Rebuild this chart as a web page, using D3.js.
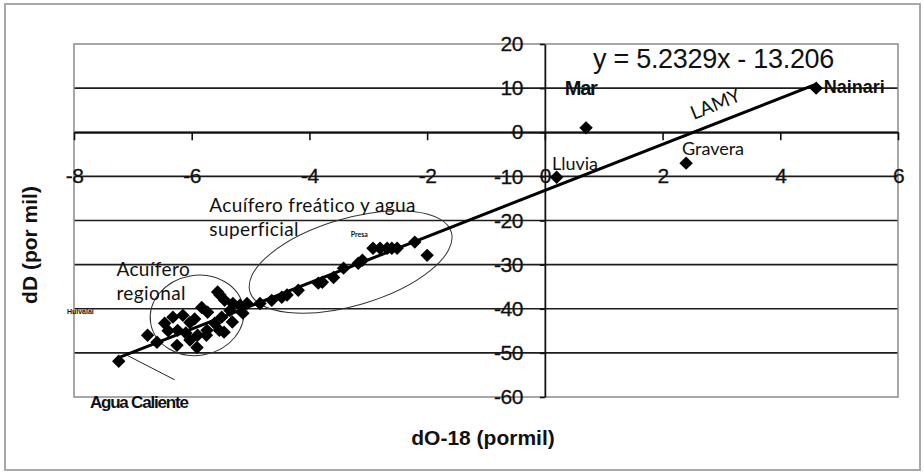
<!DOCTYPE html>
<html>
<head>
<meta charset="utf-8">
<script src="https://cdn.jsdelivr.net/npm/d3@7"></script>
<style>
  body { margin: 0; background: #fff; }
  svg { display: block; }
  .tick text { font-family: "Liberation Sans", Arial, sans-serif; font-size: 21px; fill: #111; }
  .lbl { font-family: "Liberation Sans", Arial, sans-serif; fill: #111; }
  .cal { font-family: Lato, "Open Sans", sans-serif; fill: #111; }
</style>
</head>
<body>
<div id="chart"></div>
<script>
// --------------------------------------
//  Data
// --------------------------------------

const xTicks = [-8, -6, -4, -2, 0, 2, 4, 6];
const yTicks = [-60, -50, -40, -30, -20, -10, 0, 10, 20];

// dO-18 / dD samples (por mil)
const dO18 = [-7.24, -6.75, -6.59, -6.46, -6.32, -6.15, -6.03, -6.24, -6.25, -6.03,
              -5.90, -5.83, -5.73, -5.52, -5.44, -5.61, -5.49, -5.35, -5.30, -5.18,
              -5.06, -5.13, -5.74, -5.91, -6.10, -5.75, -5.53, -5.31, -5.45, -5.56,
              -5.95, -6.40,
              -4.84, -4.64, -4.47, -4.38, -4.19, -3.85, -3.78, -3.59, -3.42, -3.17,
              -3.10, -2.92, -2.80, -2.68, -2.60, -2.51, -2.21, -2.00,
              0.20, 0.70, 2.40, 4.61];
const dD = [-51.9, -46.0, -47.6, -43.3, -41.9, -41.5, -43.1, -44.9, -48.3, -47.1,
            -46.0, -39.7, -40.8, -36.9, -38.1, -43.3, -41.9, -40.4, -38.8, -39.2,
            -38.8, -41.0, -44.9, -48.8, -45.5, -46.0, -44.9, -43.0, -45.3, -36.2,
            -42.3, -45.0,
            -38.8, -38.1, -37.4, -36.9, -35.8, -34.2, -34.0, -32.9, -30.8, -29.7,
            -29.0, -26.3, -26.3, -26.3, -26.3, -26.3, -24.9, -27.9,
            -10.2, 1.0, -7.0, 10.0];

// regression (LAMY)
const slope = 5.2329;
const intercept = -13.206;
const fitRange = [-7.25, 4.6];

// point labels (baseline positions)
const pointNames = ["Lluvia", "Mar", "Gravera", "Nainari"];
const pointLabelX = [0.12, 0.34, 2.33, 4.74];
const pointLabelY = [-8.6, 8.44, -5.2, 8.9];

// --------------------------------------
//  Canvas
// --------------------------------------

const width = 924, height = 473;

const svg = d3.select("#chart")
  .append("svg")
    .attr("width", width)
    .attr("height", height);

svg.append("rect")
  .attr("x", 5).attr("y", 4)
  .attr("width", 915).attr("height", 466)
  .attr("fill", "#fff")
  .attr("stroke", "#a8a8a8")
  .attr("stroke-width", 2);

// --------------------------------------
//  Scales
// --------------------------------------

const x = d3.scaleLinear().domain([-8, 6]).range([74, 898]);
const y = d3.scaleLinear().domain([-60, 20]).range([397, 44]);

// --------------------------------------
//  Grid and plot border
// --------------------------------------

svg.append("g")
  .selectAll("line")
  .data(yTicks.filter(d => d > -60 && d < 20))
  .join("line")
    .attr("x1", x(-8)).attr("x2", x(6))
    .attr("y1", d => y(d)).attr("y2", d => y(d))
    .attr("stroke", "#1c1c1c")
    .attr("stroke-width", 1.6);

svg.append("rect")
  .attr("x", x(-8)).attr("y", y(20))
  .attr("width", x(6) - x(-8)).attr("height", y(-60) - y(20))
  .attr("fill", "none")
  .attr("stroke", "#8a8a8a")
  .attr("stroke-width", 1.5);

// --------------------------------------
//  Axes (crossing at 0,0)
// --------------------------------------

const xAxis = svg.append("g")
  .attr("transform", `translate(0, ${y(0)})`)
  .call(d3.axisBottom(x).tickValues(xTicks).tickFormat(d => String(d))
    .tickSize(8).tickSizeOuter(0).tickPadding(28));

const yAxis = svg.append("g")
  .attr("transform", `translate(${x(0)}, 0)`)
  .call(d3.axisLeft(y).tickValues(yTicks).tickFormat(d => String(d))
    .tickSize(5).tickSizeOuter(0).tickPadding(17));

[xAxis, yAxis].forEach(g => {
  g.select(".domain").attr("stroke", "#111").attr("stroke-width", 1.8);
  g.selectAll(".tick line").attr("stroke", "#111").attr("stroke-width", 1.6);
  g.selectAll(".tick text")
    .attr("letter-spacing", -0.5)
    .attr("stroke", "#111").attr("stroke-width", 0.3);
});

// --------------------------------------
//  Annotation ellipses
// --------------------------------------

svg.append("ellipse")
  .attr("transform", `translate(${x(-3.30)}, ${y(-29.4)}) rotate(-16.5)`)
  .attr("rx", 105).attr("ry", 43.5)
  .attr("fill", "none").attr("stroke", "#333").attr("stroke-width", 1);

svg.append("ellipse")
  .attr("transform", `translate(${x(-5.91)}, ${y(-41.5)}) rotate(-10)`)
  .attr("rx", 47).attr("ry", 40)
  .attr("fill", "none").attr("stroke", "#333").attr("stroke-width", 1);

// --------------------------------------
//  Trend line and pointer
// --------------------------------------

svg.append("line")
  .attr("x1", x(fitRange[0])).attr("y1", y(slope * fitRange[0] + intercept))
  .attr("x2", x(fitRange[1])).attr("y2", y(slope * fitRange[1] + intercept))
  .attr("stroke", "#000")
  .attr("stroke-width", 3);

svg.append("line")
  .attr("x1", x(-7.12)).attr("y1", y(-50.4))
  .attr("x2", x(-6.29)).attr("y2", y(-56.1))
  .attr("stroke", "#222")
  .attr("stroke-width", 1);

// --------------------------------------
//  Points
// --------------------------------------

const diamond = d3.symbol().type(d3.symbolSquare).size(90);

svg.append("g")
  .selectAll("path")
  .data(dO18.map((d, i) => ({ o: d, h: dD[i] })))
  .join("path")
    .attr("transform", d => `translate(${x(d.o)}, ${y(d.h)}) rotate(45)`)
    .attr("d", diamond)
    .attr("fill", "#000");

// --------------------------------------
//  Texts
// --------------------------------------

svg.append("text")
  .attr("class", "lbl")
  .attr("x", x(0.82)).attr("y", y(14.6))
  .attr("font-size", 27)
  .attr("letter-spacing", -0.3)
  .text(`y = ${slope}x - ${Math.abs(intercept)}`);

svg.selectAll(".pname")
  .data(pointNames)
  .join("text")
    .attr("class", (d, i) => i === 0 || i === 2 ? "pname cal" : "pname lbl")
    .attr("x", (d, i) => x(pointLabelX[i]))
    .attr("y", (d, i) => y(pointLabelY[i]))
    .attr("font-size", (d, i) => i === 1 ? 20 : 18)
    .attr("font-weight", (d, i) => i === 1 || i === 3 ? "bold" : "normal")
    .attr("letter-spacing", (d, i) => i === 1 ? -1.3 : 0)
    .text(d => d);

svg.append("text")
  .attr("class", "cal")
  .attr("transform", `translate(${x(2.94)}, ${y(5.0)}) rotate(-22)`)
  .attr("text-anchor", "middle")
  .attr("font-size", 19)
  .text("LAMY");

const notes = ["Acuífero freático y agua", "superficial", "Acuífero", "regional"];
const noteX = [-5.7, -5.7, -7.28, -7.28];
const noteY = [-18.1, -23.6, -32.5, -38.0];

svg.selectAll(".note")
  .data(notes)
  .join("text")
    .attr("class", "note cal")
    .attr("x", (d, i) => x(noteX[i]))
    .attr("y", (d, i) => y(noteY[i]))
    .attr("font-size", 19)
    .attr("letter-spacing", 0.4)
    .text(d => d);

svg.append("text")
  .attr("class", "cal")
  .attr("x", x(-3.3)).attr("y", y(-23.7))
  .attr("font-size", 7)
  .attr("font-weight", "bold")
  .text("Presa");

svg.append("text")
  .attr("class", "lbl")
  .attr("x", x(-8.12)).attr("y", y(-41.2))
  .attr("font-size", 7)
  .attr("font-weight", "bold")
  .text("Huivalai");

svg.append("text")
  .attr("class", "lbl")
  .attr("x", x(-7.73)).attr("y", y(-62.5))
  .attr("font-size", 17)
  .attr("font-weight", "bold")
  .attr("letter-spacing", -1.2)
  .text("Agua Caliente");

// axis titles
svg.append("text")
  .attr("class", "lbl")
  .attr("x", 483).attr("y", 445)
  .attr("text-anchor", "middle")
  .attr("font-size", 21)
  .attr("font-weight", "bold")
  .text("dO-18 (pormil)");

svg.append("text")
  .attr("class", "lbl")
  .attr("transform", "translate(37, 245) rotate(-90)")
  .attr("text-anchor", "middle")
  .attr("font-size", 21)
  .attr("font-weight", "bold")
  .text("dD (por mil)");
</script>
</body>
</html>
